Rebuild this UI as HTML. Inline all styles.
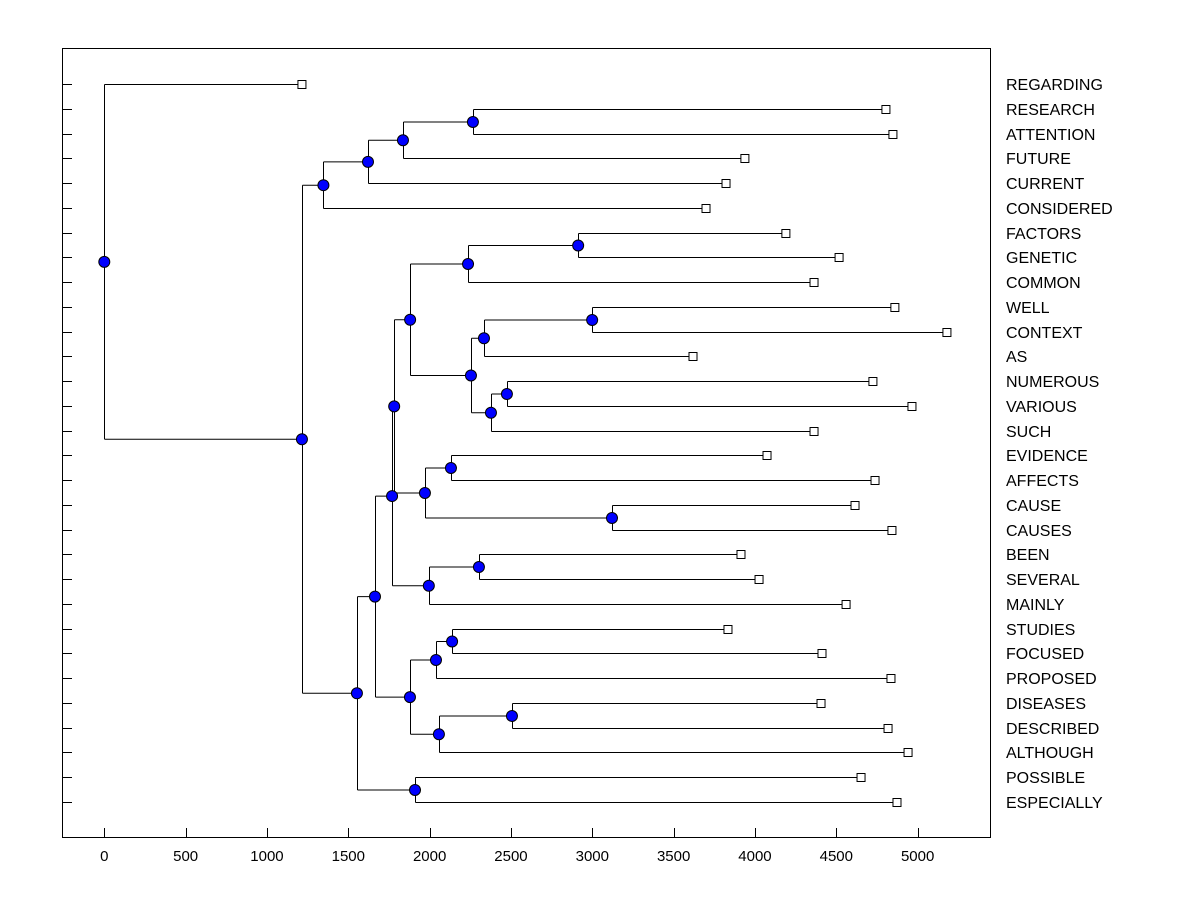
<!DOCTYPE html>
<html><head><meta charset="utf-8"><style>
body{margin:0;background:#fff;}
svg{display:block;font-family:"Liberation Sans",Arial,sans-serif;}
</style></head><body>
<svg id="chart" width="1200" height="900"></svg>
<script>
const leafLabels=["REGARDING","RESEARCH","ATTENTION","FUTURE","CURRENT","CONSIDERED","FACTORS","GENETIC","COMMON","WELL","CONTEXT","AS","NUMEROUS","VARIOUS","SUCH","EVIDENCE","AFFECTS","CAUSE","CAUSES","BEEN","SEVERAL","MAINLY","STUDIES","FOCUSED","PROPOSED","DISEASES","DESCRIBED","ALTHOUGH","POSSIBLE","ESPECIALLY"];
const leafValues=[1215,4805,4848,3938,3822,3699,4190,4517,4363,4860,5180,3619,4725,4965,4363,4074,4738,4615,4842,3914,4025,4560,3834,4412,4836,4406,4818,4941,4652,4873];
const nodeNames=["root","mid","top","n1","n2","n3","bot","b1","c","e","f","h","fg","i","j","wc","k","nv","g","ea","cc","been","bs","d","d1","st","d2","dis","pos"];
const nodeValues=[0,1215,1347,1621,1836,2266,1553,1664,1769,1782,1880,2236,2913,2254,2334,2999,2377,2475,1971,2131,3121,1995,2303,1879,2039,2138,2057,2506,1910];
const nodeChildren={root:["L0","mid"],mid:["top","bot"],top:["n1","L5"],n1:["n2","L4"],n2:["n3","L3"],n3:["L1","L2"],
bot:["b1","pos"],b1:["c","d"],c:["e","been"],e:["f","g"],f:["h","i"],h:["fg","L8"],fg:["L6","L7"],i:["j","k"],j:["wc","L11"],wc:["L9","L10"],k:["nv","L14"],nv:["L12","L13"],
g:["ea","cc"],ea:["L15","L16"],cc:["L17","L18"],been:["bs","L21"],bs:["L19","L20"],d:["d1","d2"],d1:["st","L24"],st:["L22","L23"],d2:["dis","L27"],dis:["L25","L26"],pos:["L28","L29"]};
const xTicks=[0,500,1000,1500,2000,2500,3000,3500,4000,4500,5000];

const NS="http://www.w3.org/2000/svg";
const svg=document.getElementById('chart');
const X0=104.3,KX=0.16267;
const sx=v=>X0+v*KX;
const sy=i=>84+i*(802-84)/29;
function mk(t,a){const e=document.createElementNS(NS,t);for(const k in a)e.setAttribute(k,a[k]);return e;}
const gL=mk('g',{}),gM=mk('g',{});
// frame
const frame=mk('rect',{x:62.5,y:48.5,width:928,height:789,fill:'none',stroke:'#000','stroke-width':1});


svg.appendChild(frame);
// x ticks
xTicks.forEach(t=>{
 const x=Math.round(sx(t))+0.5;
 const l=mk('line',{x1:x,x2:x,y1:838,y2:828,stroke:'#000'});
 
 
 svg.appendChild(l);
 const tx=mk('text',{x:sx(t),y:861,'text-anchor':'middle','font-size':15});
 tx.textContent=t;
 
 
 svg.appendChild(tx);
});
svg.appendChild(gL);svg.appendChild(gM);
// leaves
leafLabels.forEach((lab,i)=>{
 const y=Math.round(sy(i))+0.5;
 const t=mk('line',{x1:62,x2:72,y1:y,y2:y,stroke:'#000'});
 
 
 svg.appendChild(t);
 const tx=mk('text',{x:1006,y:y+5.5,'font-size':16});
 tx.textContent=lab;
 
 
 svg.appendChild(tx);
});
function pos(id){
 if(id[0]==='L'){const i=+id.slice(1);return {x:sx(leafValues[i]),y:Math.round(sy(i))+0.5};}
 const k=nodeNames.indexOf(id);
 const ch=nodeChildren[id].map(pos);
 return {x:sx(nodeValues[k]),y:(ch[0].y+ch[1].y)/2,ch};
}
function draw(id){
 const p=pos(id);
 if(id[0]==='L'){
  const s=mk('rect',{x:p.x-4,y:p.y-4,width:8,height:8,fill:'#fff',stroke:'#000'});
  
  
  gM.appendChild(s);return p;
 }
 const cps=nodeChildren[id].map(draw);
 const px=Math.round(p.x)+0.5;
 const v=mk('line',{x1:px,x2:px,y1:cps[0].y,y2:cps[1].y,stroke:'#000'});
 
 
 gL.appendChild(v);
 cps.forEach(c=>{
  const h=mk('line',{x1:px,x2:c.x,y1:c.y,y2:c.y,stroke:'#000'});
  
  
  gL.appendChild(h);
 });
 const c=mk('circle',{cx:p.x,cy:p.y,r:5.5,fill:'#0000ff',stroke:'#000','stroke-width':1});
 
 
 gM.appendChild(c);
 return p;
}
draw('root');
</script>
</body></html>
